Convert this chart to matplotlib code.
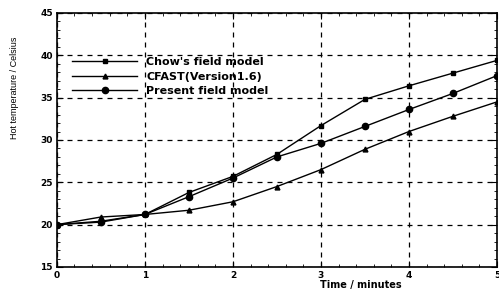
import matplotlib
matplotlib.use('Agg')
import matplotlib.pyplot as plt
from matplotlib.ticker import MultipleLocator

time_min = [0, 0.5, 1, 1.5, 2, 2.5, 3, 3.5, 4, 4.5, 5]
chow = [20.0, 20.4, 21.2, 23.8, 25.7, 28.3, 31.7, 34.8, 36.4, 37.9, 39.4]
cfast = [20.0, 20.9, 21.2, 21.7, 22.7, 24.5, 26.5, 28.9, 31.0, 32.8, 34.5]
present = [20.0, 20.3, 21.2, 23.3, 25.5, 28.0, 29.6, 31.6, 33.6, 35.5, 37.6]
labels = ["Chow's field model", "CFAST(Version1.6)", "Present field model"]

plt.rcParams['font.family'] = ['DejaVu Sans']
plt.rcParams['font.weight'] = 'bold'

fig = plt.figure(figsize=(4.99, 3.02), dpi=100)
ax = fig.add_axes([0.114, 0.116, 0.882, 0.841])

ax.plot(time_min, chow, color='black', lw=1, marker='s', ms=3.5, label=labels[0])
ax.plot(time_min, cfast, color='black', lw=1, marker='^', ms=3.5, label=labels[1])
ax.plot(time_min, present, color='black', lw=1, marker='o', ms=4.5, label=labels[2])

ax.set_xlim(0, 5)
ax.set_ylim(15, 45)
ax.xaxis.set_major_locator(MultipleLocator(1))
ax.yaxis.set_major_locator(MultipleLocator(5))
ax.xaxis.set_minor_locator(MultipleLocator(0.2))
ax.yaxis.set_minor_locator(MultipleLocator(1))
ax.tick_params(which='both', direction='in', top=True, right=True, labelsize=6.5, pad=3)
ax.tick_params(which='major', length=4)
ax.tick_params(which='minor', length=2)
ax.grid(True, which='major', ls=(0, (4, 4)), color='black', lw=0.9)
for sp in ax.spines.values():
    sp.set_linewidth(1.2)

ax.set_xlabel('Time / minutes', fontsize=7, fontweight='bold')
ax.xaxis.set_label_coords(0.69, -0.05)
ax.set_ylabel('Hot temperature / Celsius', fontsize=6.5, fontweight='normal',
              family='Liberation Sans')
ax.yaxis.set_label_coords(-0.085, 0.705)

leg = ax.legend(loc='upper left', bbox_to_anchor=(0.034, 0.827), frameon=False, fontsize=8,
                handlelength=5.9, handletextpad=0.8, labelspacing=0.42,
                borderaxespad=0, borderpad=0)

plt.savefig('out.png', dpi=100, facecolor='white')
plt.close()
